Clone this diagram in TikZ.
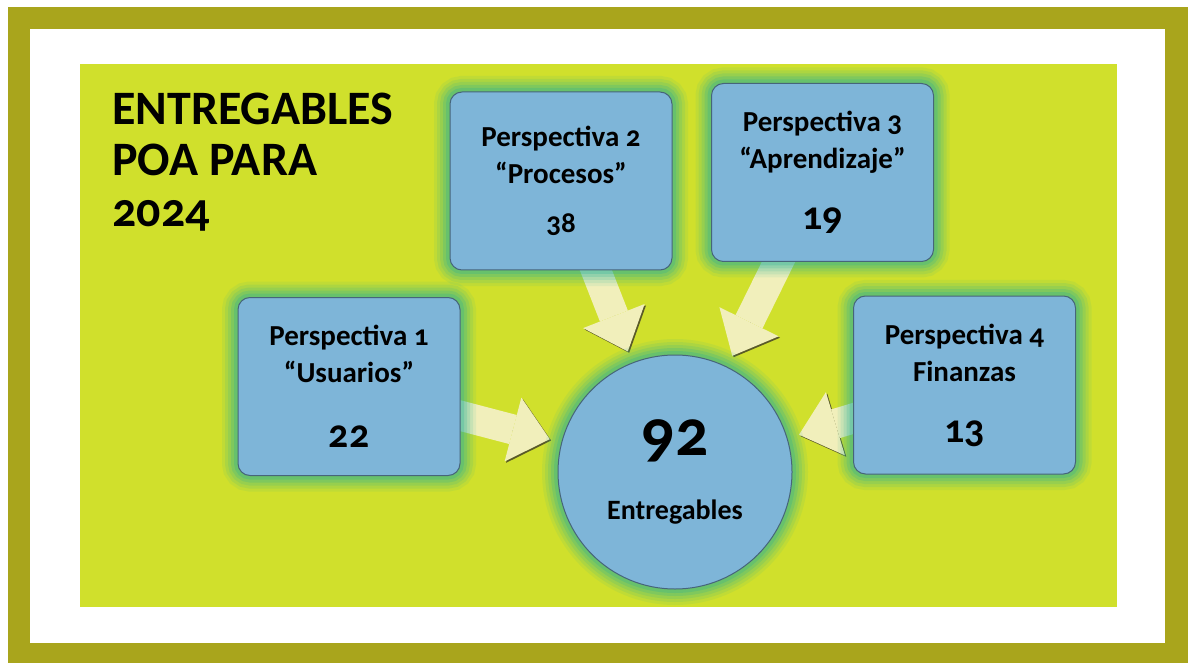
\documentclass[tikz,border=0pt]{standalone}
\usepackage{fontspec}
\setmainfont{Carlito}[Numbers=OldStyle]
\usetikzlibrary{arrows.meta}
\pgfdeclarelayer{panel}
\pgfdeclarelayer{flows}
\pgfsetlayers{panel,flows,main}
\definecolor{olive}{HTML}{A9A51C}
\definecolor{panelc}{HTML}{D0E02C}
\definecolor{boxblue}{HTML}{7EB5D8}
\definecolor{boxedge}{HTML}{46657A}
\definecolor{glowc}{HTML}{22B09A}
\definecolor{flowc}{HTML}{F1EFBB}
\definecolor{flowedge}{HTML}{5A5A28}
\tikzset{
  glow/.style={preaction={draw=glowc,line width=16pt,draw opacity=.09},
               preaction={draw=glowc,line width=13pt,draw opacity=.12},
               preaction={draw=glowc,line width=10pt,draw opacity=.15},
               preaction={draw=glowc,line width=7pt,draw opacity=.2},
               preaction={draw=glowc,line width=4pt,draw opacity=.25}},
  persp/.style={glow,rectangle,rounded corners=6pt,fill=boxblue,draw=boxedge,
                line width=.5pt,minimum width=111pt,minimum height=89pt,
                inner sep=0pt,align=center,
                font=\bfseries\fontsize{14.5}{18.5}\selectfont},
  hubc/.style={glow,circle,fill=boxblue,draw=boxedge,line width=.5pt,
               minimum size=117pt,inner sep=0pt,align=center,
               font=\bfseries\fontsize{14}{18}\selectfont},
  flow/.style={draw=flowc,line width=15pt,shorten <=-10pt,shorten >=6pt,
               -{Triangle[length=19pt 0,width=33pt 0,line width=0pt 0]},
               preaction={draw=flowedge,transform canvas={shift={(.7pt,-.7pt)}}}}
}
\newcommand{\bignum}{\fontsize{20}{20}\selectfont}
\begin{document}
\begin{tikzpicture}[x=0.5pt,y=-0.5pt]
\useasboundingbox (0,0) rectangle (1188,663);
\begin{pgfonlayer}{panel}
\fill[white] (0,0) rectangle (1188,663);
\fill[olive] (8,7) rectangle (1188,663);
\fill[white] (30,29) rectangle (1165,643);
\fill[panelc] (80,64) rectangle (1117,607);
\end{pgfonlayer}
% title
\node[anchor=north west,inner sep=0pt,align=left,
      font=\bfseries\fontsize{24}{25.5}\selectfont] (title) at (112,93)
  {ENTREGABLES\\POA PARA\\2024};
% perspectives
\node[persp] (b1) at (349,386.5) {Perspectiva 1\\“Usuarios”\\[14pt]{\bignum 22}};
\node[persp] (b2) at (561,181) {Perspectiva 2\\“Procesos”\\[6pt]38};
\node[persp] (b3) at (822.5,172.5) {Perspectiva 3\\“Aprendizaje”\\[12pt]{\bignum 19}};
\node[persp] (b4) at (964.5,385) {Perspectiva 4\\Finanzas\\[12pt]{\bignum 13}};
\node[hubc] (hub) at (675,472) {{\fontsize{33}{33}\selectfont 92}\\[14pt]Entregables};
\begin{pgfonlayer}{flows}
\draw[flow] (b1) -- (hub);
\draw[flow] (b2) -- (hub);
\draw[flow] (b3) -- (hub);
\draw[flow] (b4) -- (hub);
\end{pgfonlayer}
\end{tikzpicture}
\end{document}
